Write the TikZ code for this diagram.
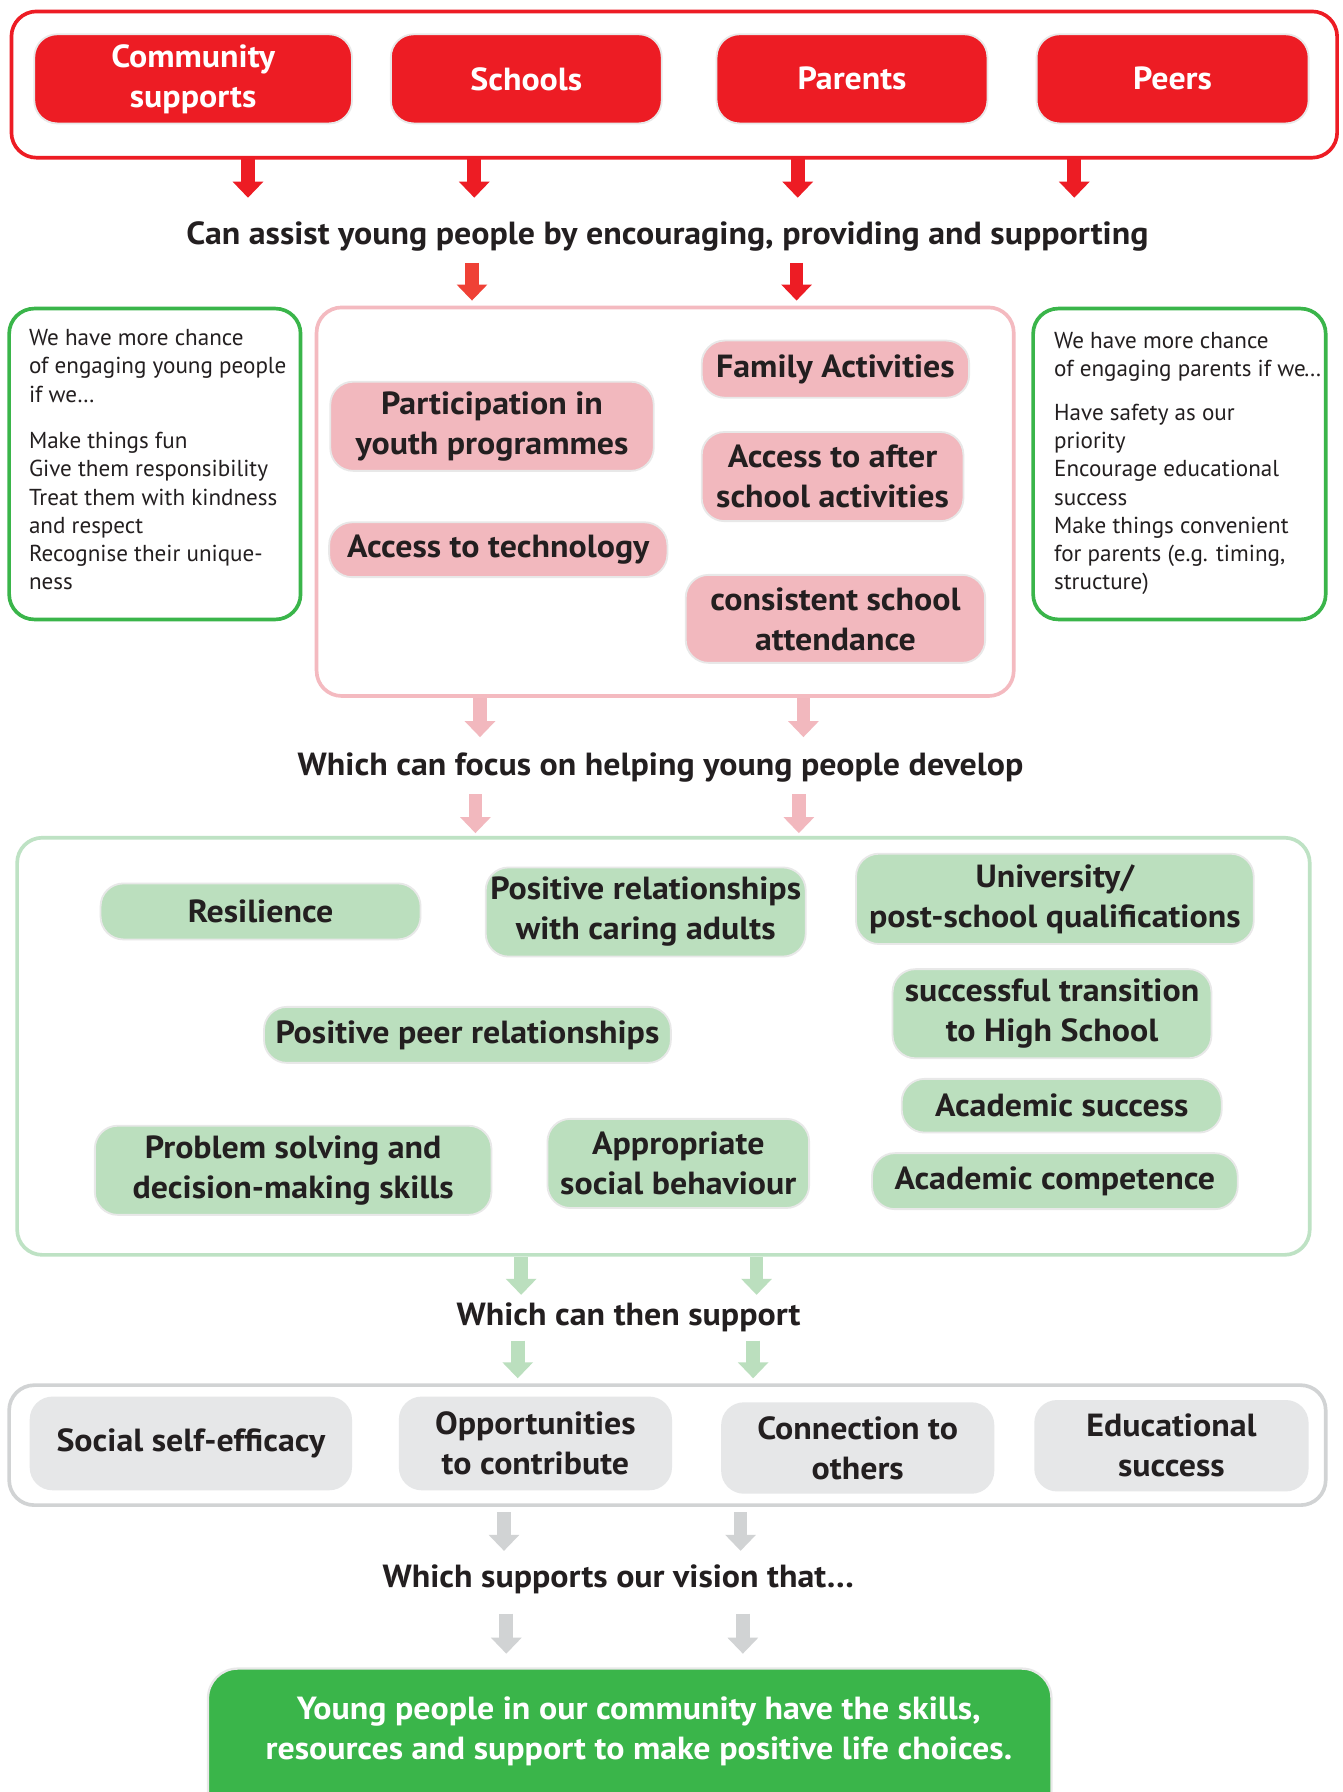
\documentclass[tikz,border=0pt]{standalone}
\usepackage{fontspec}
\setmainfont{PT Sans}
\newfontfamily\widefam[FakeStretch=1.06]{PT Sans}
\usetikzlibrary{arrows.meta,fit}
\definecolor{myred}{HTML}{ED1C24}
\definecolor{redtwo}{HTML}{EF4136}
\definecolor{txt}{HTML}{231F20}
\definecolor{pinkfill}{HTML}{F2B8BE}
\definecolor{pinkframe}{HTML}{F4BAC0}
\definecolor{greenfill}{HTML}{BBDFBE}
\definecolor{greenframe}{HTML}{BEE2C4}
\definecolor{grayfill}{HTML}{E6E7E8}
\definecolor{grayframe}{HTML}{D1D3D4}
\definecolor{darkgreen}{HTML}{3AB54A}
\definecolor{tileedge}{HTML}{E8E8E8}
\newcommand\lblfont{\widefam\fontsize{14}{17.5}\selectfont\bfseries}
\newcommand\headfont{\widefam\fontsize{14}{17}\selectfont\bfseries}
\newcommand\sidefont{\fontsize{10.1}{12.35}\selectfont}
\begin{document}
\begin{tikzpicture}[x=0.5pt,y=-0.5pt,
  every node/.style={text=txt},
  wh/.style 2 args={minimum width={#1*0.5pt}, minimum height={#2*0.5pt}},
  frame/.style={draw, line width=1.6pt, rounded corners=11pt, inner sep=0pt},
  tile/.style={inner sep=0pt, rounded corners=10pt, draw=tileedge, line width=0.8pt, align=center, font=\lblfont},
  redtile/.style={tile, fill=myred, text=white},
  pinktile/.style={tile, fill=pinkfill},
  greentile/.style={tile, fill=greenfill},
  graytile/.style={tile, fill=grayfill, draw=none},
  head/.style={font=\headfont, inner sep=0pt},
  side/.style={font=\sidefont, align=left, inner sep=0pt, anchor=north west},
  blk/.style={line width=6pt, -{Triangle[width=13pt,length=7pt]}},
]
\fill[white] (0,0) rectangle (1175,1568);
\useasboundingbox (0,0) rectangle (1175,1568);

% ---------- top red section
\node[frame, draw=myred, fit={(10,10)(1170,138)}] (topframe) {};
\node[redtile, wh={278}{78}] (comm) at (169,69) {Community\\supports};
\node[redtile, wh={237}{78}] (schools) at (460.5,69) {Schools};
\node[redtile, wh={237}{78}] (parents) at (745.5,69) {Parents};
\node[redtile, wh={238}{78}] (peers) at (1026,69) {Peers};

\node[head] (h1) at (584,207) {Can assist young people by encouraging, providing and supporting};

\foreach \x/\n in {217/a,415/b,698/c,940/d}{
  \coordinate (r\n s) at (\x,139);
  \coordinate (r\n e) at (\x,173);
  \draw[blk, myred] (r\n s) -- (r\n e);
}
\coordinate (s1a) at (413,230); \coordinate (e1a) at (413,263);
\coordinate (s1b) at (697,230); \coordinate (e1b) at (697,263);
\draw[blk, redtwo] (s1a) -- (e1a);
\draw[blk, myred] (s1b) -- (e1b);

% ---------- side boxes
\node[frame, draw=darkgreen, fit={(8,270)(263,542)}] (leftbox) {};
\node[side] (lefttext) at (25,288) {We have more chance\\of engaging young people\\if we\ldots\\[8pt]Make things fun\\Give them responsibility\\Treat them with kindness\\and respect\\Recognise their unique-\\ness};
\node[frame, draw=darkgreen, fit={(904,270)(1160,542)}] (rightbox) {};
\node[side] (righttext) at (922,290) {We have more chance\\of engaging parents if we\kern-0.8pt\ldots\\[7pt]Have safety as our\\priority\\Encourage educational\\success\\Make things convenient\\for parents (e.g. timing,\\structure)};

% ---------- pink section
\node[frame, draw=pinkframe, fit={(277,269)(887,609)}] (pinkframe) {};
\node[pinktile, wh={283}{78}] (part) at (430.5,373) {Participation in\\youth programmes};
\node[pinktile, wh={296}{48}] (tech) at (436,481) {\raisebox{-1.5pt}{Access to technology}};
\node[pinktile, wh={234}{50}] (family) at (731,323) {\raisebox{-1.5pt}{Family Activities}};
\node[pinktile, wh={229}{78}] (after) at (728.5,417) {Access to after\\school activities};
\node[pinktile, wh={262}{77}] (attend) at (731,541.5) {consistent school\\attendance};

\coordinate (p1s) at (420,611); \coordinate (p1e) at (420,645);
\coordinate (p2s) at (703,611); \coordinate (p2e) at (703,645);
\draw[blk, pinkfill] (p1s) -- (p1e);
\draw[blk, pinkfill] (p2s) -- (p2e);
\node[head] (h2) at (578,672) {Which can focus on helping young people develop};
\coordinate (p3s) at (416,695); \coordinate (p3e) at (416,729);
\coordinate (p4s) at (699,695); \coordinate (p4e) at (699,729);
\draw[blk, pinkfill] (p3s) -- (p3e);
\draw[blk, pinkfill] (p4s) -- (p4e);

% ---------- green section
\node[frame, draw=greenframe, fit={(15,733)(1146,1098)}] (greenframe) {};
\node[greentile, wh={280}{49}] (resil) at (228,797.5) {Resilience};
\node[greentile, wh={280}{78}] (posrel) at (565,798) {Positive relationships\\with caring adults};
\node[greentile, wh={348}{79}] (uni) at (923,786.5) {University/\\post-school qualifications};
\node[greentile, wh={279}{78}] (trans) at (920.5,887) {successful transition\\to High School};
\node[greentile, wh={356}{49}] (peer) at (409,905.5) {Positive peer relationships};
\node[greentile, wh={280}{47}] (acsucc) at (929,967.5) {Academic success};
\node[greentile, wh={347}{78}] (prob) at (256.5,1024) {Problem solving and\\decision-making skills};
\node[greentile, wh={229}{78}] (appr) at (593.5,1018) {Appropriate\\social behaviour};
\node[greentile, wh={320}{49}] (accomp) at (923,1033.5) {Academic competence};

\coordinate (g1s) at (456,1100); \coordinate (g1e) at (456,1133);
\coordinate (g2s) at (662,1100); \coordinate (g2e) at (662,1133);
\draw[blk, greenfill] (g1s) -- (g1e);
\draw[blk, greenfill] (g2s) -- (g2e);
\node[head] (h3) at (550,1153) {Which can then support};
\coordinate (g3s) at (453,1173); \coordinate (g3e) at (453,1206);
\coordinate (g4s) at (659,1173); \coordinate (g4e) at (659,1206);
\draw[blk, greenfill] (g3s) -- (g3e);
\draw[blk, greenfill] (g4s) -- (g4e);

% ---------- gray section
\node[frame, draw=grayframe, fit={(8,1212)(1160,1317)}] (grayframe) {};
\node[graytile, wh={282}{82}] (selfeff) at (167,1263) {Social self-efficacy};
\node[graytile, wh={239}{82}] (opp) at (468.5,1263) {Opportunities\\to contribute};
\node[graytile, wh={239}{80}] (conn) at (750.5,1267) {Connection to\\others};
\node[graytile, wh={240}{80}] (edu) at (1025,1265) {Educational\\success};

\coordinate (q1s) at (441,1323); \coordinate (q1e) at (441,1357);
\coordinate (q2s) at (648,1323); \coordinate (q2e) at (648,1357);
\draw[blk, grayframe] (q1s) -- (q1e);
\draw[blk, grayframe] (q2s) -- (q2e);
\node[head] (h4) at (541,1382) {Which supports our vision that\ldots};
\coordinate (q3s) at (443,1412); \coordinate (q3e) at (443,1447);
\coordinate (q4s) at (650,1412); \coordinate (q4e) at (650,1447);
\draw[blk, grayframe] (q3s) -- (q3e);
\draw[blk, grayframe] (q4s) -- (q4e);

% ---------- vision
\node[tile, fill=darkgreen, draw=tileedge, line width=1pt, rounded corners=13pt, fit={(182,1460)(920,1600)}] (visionbox) {};
\node[font=\lblfont, text=white, align=center, inner sep=0pt] (vision) at (559,1515) {Young people in our community have the skills,\\resources and support to make positive life choices.};
\end{tikzpicture}
\end{document}
